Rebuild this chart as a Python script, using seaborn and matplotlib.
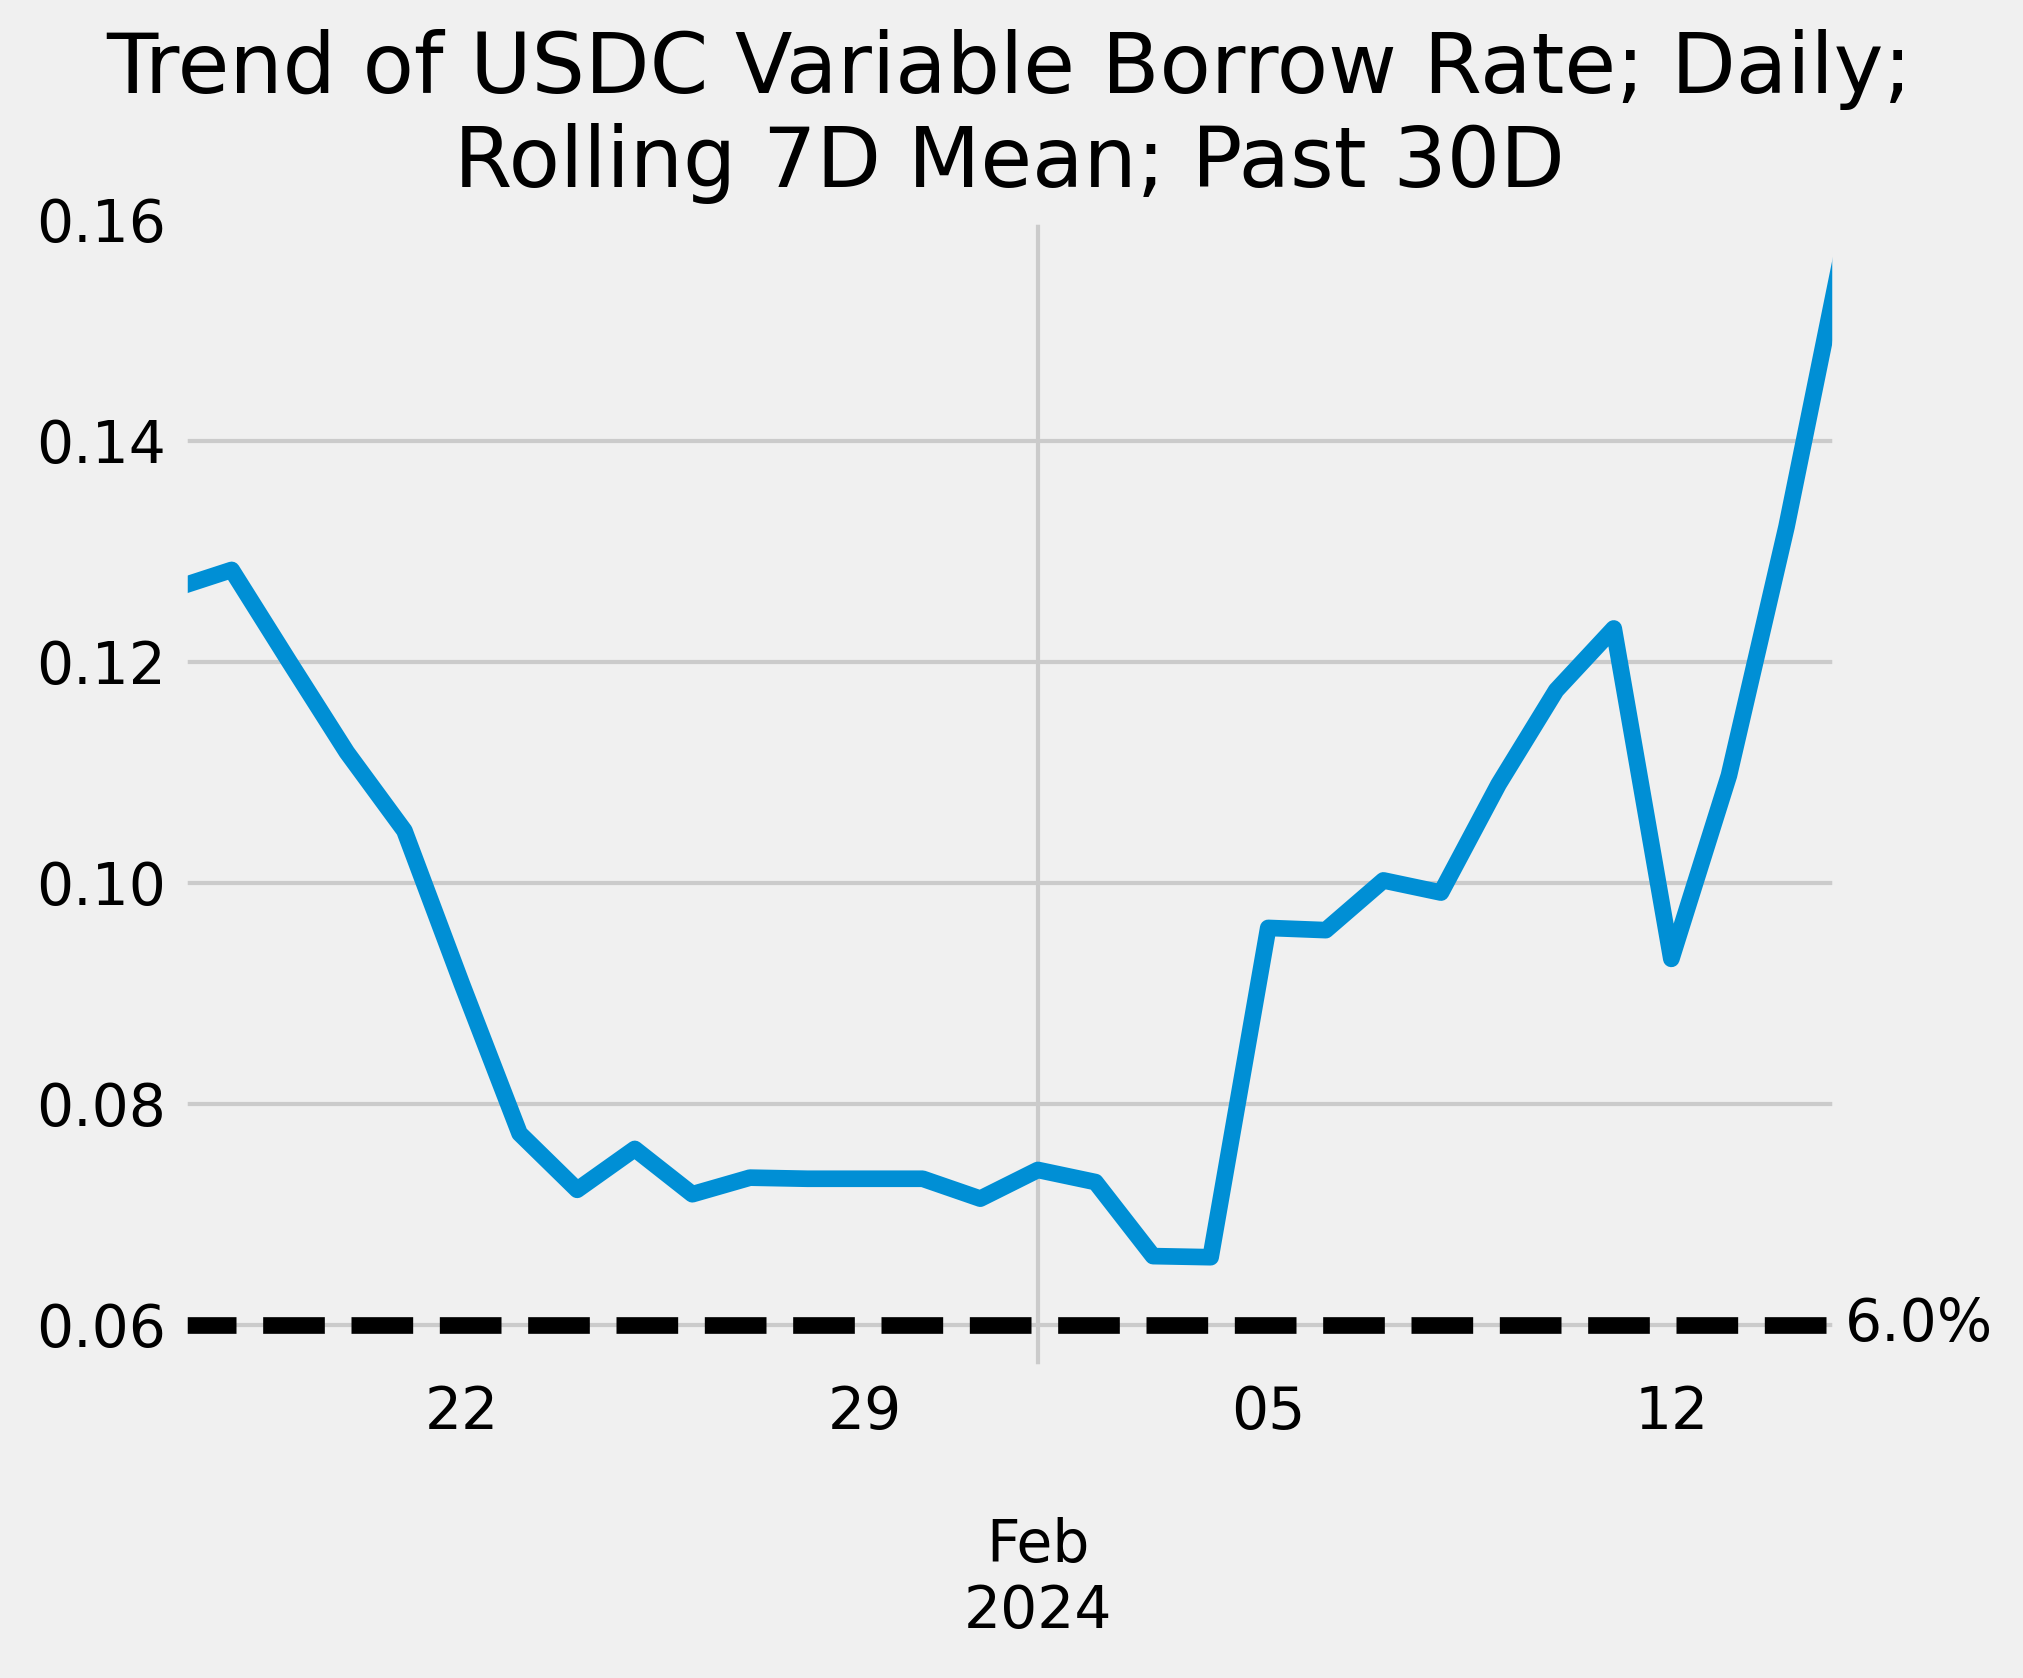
import matplotlib
matplotlib.use("Agg")
import matplotlib.pyplot as plt
import matplotlib.dates as mdates
import matplotlib.ticker as mticker
import numpy as np
import pandas as pd
import seaborn as sns

# ---- data ----
dates = pd.date_range("2024-01-17", "2024-02-15", freq="D")
borrow_rate = [
    0.1266, 0.1283, 0.1200, 0.1118, 0.1047, 0.0908, 0.0773, 0.0722, 0.0759, 0.0718,
    0.0733, 0.0732, 0.0732, 0.0732, 0.0714, 0.0740, 0.0729, 0.0662, 0.0661, 0.0959,
    0.0957, 0.1002, 0.0991, 0.1089, 0.1174, 0.1230, 0.0931, 0.1097, 0.1322, 0.1578,
]
threshold = 0.06
threshold_label = "6.0%"
title = "Trend of USDC Variable Borrow Rate; Daily;\nRolling 7D Mean; Past 30D"
week_ticks = pd.to_datetime(["2024-01-22", "2024-01-29", "2024-02-05", "2024-02-12"])
month_tick = pd.to_datetime(["2024-02-01"])
month_label = "\n\nFeb\n2024"

df = pd.DataFrame({"date": dates, "rate": borrow_rate})

plt.style.use("fivethirtyeight")
fig = plt.figure(figsize=(2023 / 300, 1678 / 300), dpi=300)
ax = fig.add_axes([0.0893, 0.1836, 0.9086 - 0.0893, 0.8701 - 0.1836])

sns.lineplot(data=df, x="date", y="rate", ax=ax, color="#008fd5", linewidth=4)
ax.axhline(threshold, color="black", linewidth=4, linestyle=(0.4, (3.7, 1.6)))
ax.text(1.004, threshold, threshold_label, transform=ax.get_yaxis_transform(),
        ha="left", va="center", fontsize=14, color="black")

ax.set_xlim(pd.Timestamp("2024-01-17 02:45"), pd.Timestamp("2024-02-14 21:30"))
ax.set_ylim(0.0559, 0.16015)
ax.yaxis.set_major_locator(mticker.MultipleLocator(0.02))
ax.yaxis.set_major_formatter(mticker.FormatStrFormatter("%.2f"))

ax.xaxis.set_major_locator(mticker.FixedLocator(mdates.date2num(month_tick)))
ax.xaxis.set_major_formatter(mticker.FixedFormatter([month_label]))
ax.xaxis.set_minor_locator(mticker.FixedLocator(mdates.date2num(week_ticks)))
ax.xaxis.set_minor_formatter(mdates.DateFormatter("%d"))
ax.tick_params(axis="x", which="both", labelsize=14)
ax.tick_params(axis="y", labelsize=14)

ax.set_xlabel("")
ax.set_ylabel("")
ax.set_title(title, pad=7.4)

fig.savefig("out.png", dpi=300, facecolor="#f0f0f0")
